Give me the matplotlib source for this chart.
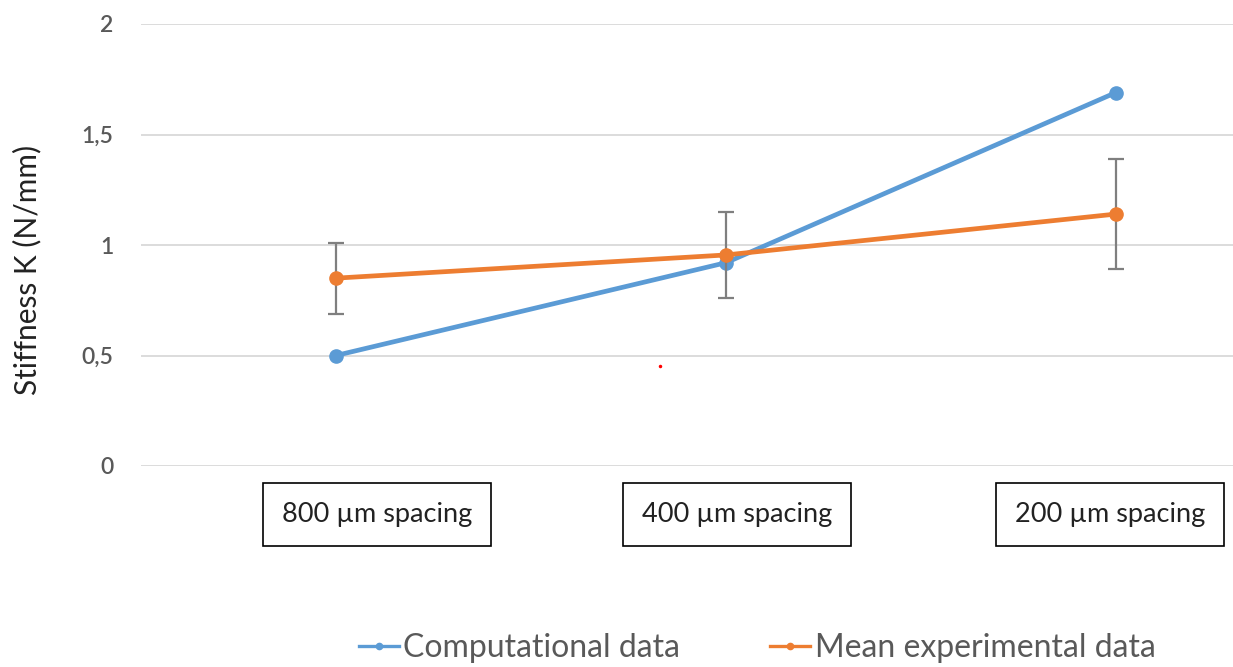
import matplotlib.pyplot as plt
from matplotlib.lines import Line2D

# Data
categories = ["800 µm spacing", "400 µm spacing", "200 µm spacing"]
computational = [0.50, 0.92, 1.69]
experimental = [0.85, 0.955, 1.14]
experimental_err = [0.16, 0.195, 0.25]
y_ticks = [0, 0.5, 1, 1.5, 2]
y_tick_labels = ["0", "0,5", "1", "1,5", "2"]
stray_point = (0.83, 0.452)

blue = "#5B9BD5"
orange = "#ED7D31"
grey_text = "#595959"

plt.rcParams['font.family'] = ['Lato', 'DejaVu Sans']

fig = plt.figure(figsize=(12.33, 6.67), dpi=100)
ax = fig.add_axes([141 / 1233, 1 - 466 / 667, 1 - 141 / 1233, (466 - 24) / 667])

x = list(range(len(categories)))

ax.plot(x, computational, color=blue, lw=3.4, marker='o', ms=9.5,
        solid_capstyle='round', zorder=3, clip_on=False)
ax.errorbar(x, experimental, yerr=experimental_err, color=orange, lw=3.4,
            marker='o', ms=9.5, ecolor="#7f7f7f", elinewidth=1.6, capsize=6,
            capthick=1.6, zorder=4, clip_on=False)
ax.plot([stray_point[0]], [stray_point[1]], 'o', color='red', ms=1.5, zorder=5)

ax.set_xlim(-0.5, 2.3)
ax.set_ylim(0, 2)
ax.set_yticks(y_ticks)
ax.set_yticklabels(y_tick_labels, color=grey_text, fontsize=16.5, fontweight='semibold')
ax.tick_params(axis='y', length=0, pad=20)
ax.set_xticks([])
ax.grid(axis='y', color="#d9d9d9", lw=1.3)
ax.set_axisbelow(True)
for s in ax.spines.values():
    s.set_visible(False)

ax.set_ylabel("Stiffness K (N/mm)", fontsize=21.5, color="#222222")
ax.yaxis.set_label_coords(-0.091, 0.443)

# Category labels in boxes beneath the axis
label_offsets = [0.105, 0.028, -0.015]
for i, (lab, off) in enumerate(zip(categories, label_offsets)):
    ax.text(i + off, -0.22, lab, ha='center', va='center', fontsize=19.5,
            color="#222222",
            bbox=dict(boxstyle='square,pad=0.69', fc='white', ec='black', lw=1.2))

handles = [
    Line2D([], [], color=blue, lw=2.4, marker='o', ms=4.5),
    Line2D([], [], color=orange, lw=2.4, marker='o', ms=4.5),
]
fig.legend(handles, ["Computational data", "Mean experimental data"],
           loc='center', bbox_to_anchor=(757 / 1233, 1 - 648 / 667), ncol=2,
           frameon=False, fontsize=23, labelcolor=grey_text,
           handlelength=1.25, handletextpad=0.15, columnspacing=2.8)

fig.savefig("out.png", dpi=100)
